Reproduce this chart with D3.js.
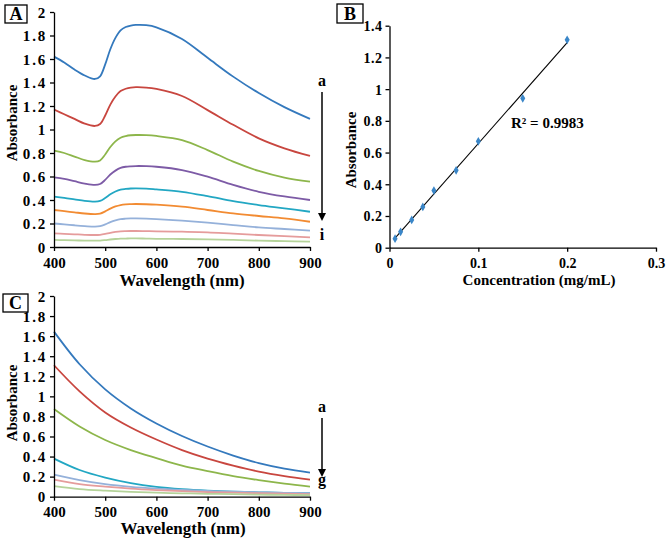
<!DOCTYPE html>
<html><head><meta charset="utf-8">
<script src="https://cdn.jsdelivr.net/npm/d3@7"></script>
<style>
body{margin:0;background:#fff;}
svg{display:block;font-family:"Liberation Serif","Times New Roman",serif;font-weight:bold;}
</style></head><body>
<svg id="c" width="666" height="538"></svg>
<script>
// ---------- data ----------
const wlA = [400,420,440,460,480,490,500,510,520,530,540,550,560,580,600,650,700,750,800,850,900];
const seriesA_a = [1.62,1.57,1.51,1.46,1.43,1.453,1.554,1.683,1.78,1.844,1.872,1.885,1.89,1.888,1.87,1.77,1.61,1.45,1.31,1.19,1.09];
const seriesA_b = [1.17,1.13,1.09,1.05,1.03,1.047,1.119,1.212,1.281,1.327,1.347,1.357,1.36,1.357,1.345,1.285,1.165,1.04,0.925,0.84,0.775];
const seriesA_c = [0.82,0.80,0.77,0.74,0.726,0.737,0.787,0.851,0.899,0.93,0.944,0.951,0.953,0.952,0.945,0.91,0.825,0.726,0.647,0.59,0.556];
const seriesA_d = [0.593,0.58,0.56,0.54,0.528,0.536,0.571,0.617,0.65,0.673,0.683,0.687,0.689,0.688,0.683,0.655,0.598,0.528,0.47,0.43,0.40];
const seriesA_e = [0.428,0.418,0.405,0.392,0.386,0.392,0.417,0.448,0.472,0.488,0.494,0.498,0.499,0.497,0.49,0.47,0.433,0.39,0.357,0.329,0.30];
const seriesA_f = [0.315,0.305,0.295,0.285,0.28,0.284,0.303,0.327,0.345,0.357,0.363,0.365,0.366,0.364,0.36,0.343,0.315,0.286,0.264,0.244,0.215];
const seriesA_g = [0.20,0.193,0.185,0.178,0.173,0.177,0.192,0.212,0.227,0.237,0.241,0.243,0.244,0.242,0.238,0.224,0.207,0.187,0.167,0.153,0.139];
const seriesA_h = [0.116,0.112,0.108,0.104,0.102,0.104,0.111,0.121,0.128,0.133,0.135,0.136,0.136,0.135,0.133,0.13,0.125,0.113,0.102,0.092,0.082];
const seriesA_i = [0.06,0.058,0.056,0.055,0.054,0.055,0.059,0.064,0.068,0.071,0.072,0.073,0.073,0.072,0.07,0.068,0.065,0.06,0.054,0.05,0.045];
const seriesA = [seriesA_a,seriesA_b,seriesA_c,seriesA_d,seriesA_e,seriesA_f,seriesA_g,seriesA_h,seriesA_i];
const colorsA = ["#3479bd","#c8463f","#8db64b","#7d5ba6","#22a7c3","#f28b32","#95b1da","#e59c9c","#b5d39a"];

const concB = [0.00625,0.0125,0.025,0.0375,0.05,0.075,0.1,0.15,0.2];
const absB  = [0.057,0.10,0.175,0.257,0.36,0.488,0.671,0.942,1.311];

const wlC = [400,450,500,550,600,650,700,750,800,850,900];
const seriesC_a = [1.645,1.32,1.07,0.88,0.73,0.605,0.50,0.41,0.335,0.28,0.24];
const seriesC_b = [1.31,1.05,0.84,0.69,0.57,0.465,0.38,0.31,0.25,0.205,0.17];
const seriesC_c = [0.874,0.70,0.565,0.465,0.385,0.31,0.255,0.205,0.165,0.13,0.10];
const seriesC_d = [0.38,0.266,0.19,0.135,0.098,0.075,0.06,0.05,0.044,0.039,0.035];
const seriesC_e = [0.22,0.165,0.125,0.098,0.08,0.067,0.057,0.05,0.044,0.039,0.035];
const seriesC_f = [0.17,0.125,0.10,0.08,0.066,0.055,0.046,0.04,0.035,0.03,0.025];
const seriesC_g = [0.105,0.076,0.06,0.048,0.04,0.034,0.029,0.025,0.021,0.018,0.015];
const seriesC = [seriesC_a,seriesC_b,seriesC_c,seriesC_d,seriesC_e,seriesC_f,seriesC_g];
const colorsC = ["#3479bd","#c8463f","#8db64b","#22a7c3","#95b1da","#e59c9c","#b5d39a"];

const xTicksWl = [400,500,600,700,800,900];
const yTicksA = [0,0.2,0.4,0.6,0.8,1,1.2,1.4,1.6,1.8,2];
const xTicksB = [0,0.1,0.2,0.3];
const yTicksB = [0,0.2,0.4,0.6,0.8,1,1.2,1.4];
const r2Label = "R² = 0.9983";

// ---------- drawing ----------
const svg = d3.select("#c");

function axes(g, x, y, xt, yt, fs, ls){
  const ax = g.append("g").attr("transform",`translate(0,${y.range()[0]})`)
    .call(d3.axisBottom(x).tickValues(xt).tickSize(4).tickSizeOuter(0).tickFormat(d=>d));
  const ay = g.append("g").attr("transform",`translate(${x.range()[0]},0)`)
    .call(d3.axisLeft(y).tickValues(yt).tickSize(4).tickSizeOuter(0).tickFormat(d=>d));
  [ax,ay].forEach(a=>{
    a.selectAll("path,line").attr("stroke","#000").attr("stroke-width",1.3);
    a.selectAll("text").attr("fill","#000").attr("font-size",fs).attr("font-family","Liberation Serif, serif").attr("font-weight","bold");
  });
  ax.selectAll("text").attr("dy","0.92em");
  ay.selectAll("text").attr("x",-7).attr("dy","0.35em").style("letter-spacing",ls+"px");
  return [ax,ay];
}
function boxLabel(x,y,w,h,t){
  svg.append("rect").attr("x",x).attr("y",y).attr("width",w).attr("height",h)
    .attr("fill","#fff").attr("stroke","#000").attr("stroke-width",1.3);
  svg.append("text").attr("x",x+w/2).attr("y",y+h/2).attr("dy","0.36em").attr("text-anchor","middle")
    .attr("font-size",18).text(t);
}
function arrowDown(x,y1,y2){
  svg.append("line").attr("x1",x).attr("x2",x).attr("y1",y1).attr("y2",y2-6)
    .attr("stroke","#000").attr("stroke-width",1.5);
  svg.append("path").attr("d",`M${x-4},${y2-8}L${x+4},${y2-8}L${x},${y2}Z`).attr("fill","#000");
}

// Panel A
{
  const x = d3.scaleLinear().domain([400,900]).range([54,310]);
  const y = d3.scaleLinear().domain([0,2]).range([247,12]);
  const g = svg.append("g");
  const line = d3.line().x((d,i)=>x(wlA[i])).y(d=>y(d)).curve(d3.curveCatmullRom.alpha(0.5));
  g.selectAll("path.s").data(seriesA).join("path").attr("class","s")
    .attr("d",line).attr("fill","none").attr("stroke",(d,i)=>colorsA[i]).attr("stroke-width",1.8);
  axes(g,x,y,xTicksWl,yTicksA,15,1.8);
  svg.append("text").attr("x",182).attr("y",286).attr("text-anchor","middle").attr("font-size",17).text("Wavelength (nm)");
  svg.append("text").attr("transform","translate(17,123) rotate(-90)").attr("text-anchor","middle").attr("font-size",15).text("Absorbance");
  boxLabel(5,5,22,18,"A");
  svg.append("text").attr("x",322).attr("y",86).attr("text-anchor","middle").attr("font-size",16).text("a");
  arrowDown(322,92,221);
  svg.append("text").attr("x",322).attr("y",240).attr("text-anchor","middle").attr("font-size",16).text("i");
}

// Panel B
{
  const x = d3.scaleLinear().domain([0,0.3]).range([389.5,656]);
  const y = d3.scaleLinear().domain([0,1.4]).range([247.7,25.7]);
  const g = svg.append("g");
  const n = concB.length;
  const mx = d3.mean(concB), my = d3.mean(absB);
  let sxy=0, sxx=0;
  for(let i=0;i<n;i++){ sxy += (concB[i]-mx)*(absB[i]-my); sxx += (concB[i]-mx)**2; }
  const slope = sxy/sxx, icpt = my - slope*mx;
  const ext = d3.extent(concB);
  g.append("line").attr("x1",x(ext[0])).attr("y1",y(icpt+slope*ext[0]))
    .attr("x2",x(ext[1])).attr("y2",y(icpt+slope*ext[1])).attr("stroke","#000").attr("stroke-width",1.1);
  const sym = d3.symbol().type(d3.symbolDiamond).size(22);
  g.selectAll("path.p").data(concB).join("path").attr("class","p")
    .attr("transform",(d,i)=>`translate(${x(d)},${y(absB[i])})`).attr("d",sym).attr("fill","#3a86c8");
  axes(g,x,y,xTicksB,yTicksB,14,0.5);
  svg.append("text").attr("x",539).attr("y",285).attr("text-anchor","middle").attr("font-size",15).text("Concentration (mg/mL)");
  svg.append("text").attr("transform","translate(356,150) rotate(-90)").attr("text-anchor","middle").attr("font-size",15).text("Absorbance");
  svg.append("text").attr("x",511).attr("y",128).attr("font-size",15).text(r2Label);
  boxLabel(337,4,26,19,"B");
}

// Panel C
{
  const x = d3.scaleLinear().domain([400,900]).range([54,310]);
  const y = d3.scaleLinear().domain([0,2]).range([496.7,296]);
  const g = svg.append("g");
  const line = d3.line().x((d,i)=>x(wlC[i])).y(d=>y(d)).curve(d3.curveCatmullRom.alpha(0.5));
  g.selectAll("path.s").data(seriesC).join("path").attr("class","s")
    .attr("d",line).attr("fill","none").attr("stroke",(d,i)=>colorsC[i]).attr("stroke-width",1.8);
  axes(g,x,y,xTicksWl,yTicksA,15,1.8);
  svg.append("text").attr("x",183).attr("y",534).attr("text-anchor","middle").attr("font-size",17).text("Wavelength (nm)");
  svg.append("text").attr("transform","translate(17,403) rotate(-90)").attr("text-anchor","middle").attr("font-size",15).text("Absorbance");
  boxLabel(3,294,25,18,"C");
  svg.append("text").attr("x",322).attr("y",412).attr("text-anchor","middle").attr("font-size",16).text("a");
  arrowDown(322,418,477);
  svg.append("text").attr("x",322).attr("y",485).attr("text-anchor","middle").attr("font-size",16).text("g");
}
</script></body></html>
